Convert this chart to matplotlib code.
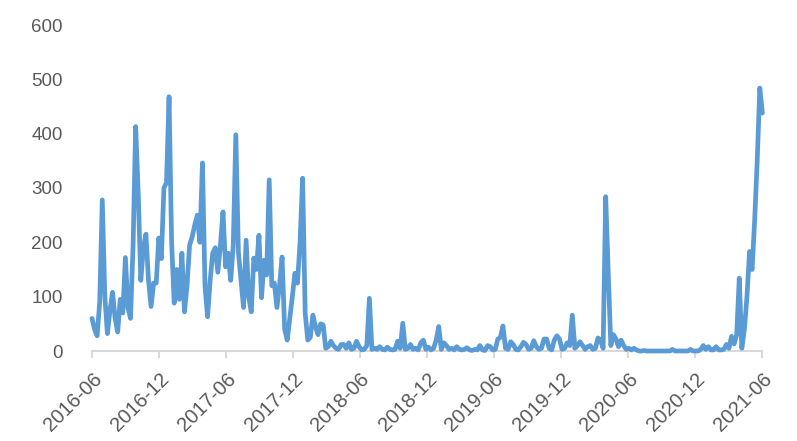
import matplotlib
matplotlib.use("Agg")
import matplotlib.pyplot as plt
import matplotlib.dates as mdates
import pandas as pd

# Weekly values starting 2016-06-01
seg_2016 = [60, 40, 28, 90, 278, 100, 32, 75, 108, 60,
            35, 95, 70, 172, 80, 60, 195, 413, 290, 130,
            190, 215, 130, 82, 125, 125, 208,
            170, 300, 310, 468, 200, 88, 150, 95, 180,
            72, 120, 195, 210, 232, 250, 200, 346, 118,
            63, 130, 180, 190, 145, 195, 256, 155]
seg_2017 = [180, 130, 195, 398, 182, 130, 80, 204, 100, 72,
            171, 150, 213, 98, 167, 140, 315, 120, 125, 80,
            120, 173, 40, 20, 60, 100,
            143, 125, 200, 318, 70, 20, 25, 66, 45, 30,
            50, 48, 5, 8, 18, 10, 5, 3, 12, 12,
            5, 15, 3, 5, 18, 8, 2, 3, 10, 97,
            3, 5, 3, 8, 3, 2]
seg_2018 = [7, 3, 2, 3, 18, 5, 51, 3, 5, 12,
            3, 5, 2, 15, 20, 3, 7, 2, 5, 20,
            45, 3, 15, 10, 3, 5, 2, 8, 3, 2,
            3, 6, 2, 1, 3, 2, 10, 2, 1, 10,
            8, 2, 3, 22, 25, 46, 5, 3, 17, 12,
            3, 2, 8, 16, 12, 3, 5, 19, 8, 3,
            5, 22, 22, 5, 2, 20, 28, 22, 3, 5,
            15, 10, 66, 5, 10, 17, 10, 3, 8, 10,
            3, 5, 24, 20, 5, 284, 143, 10, 30, 22,
            8, 20, 10, 3, 5, 2, 5]
seg_2020 = [2, 0, 0, 1, 0, 0, 0, 0, 0, 0,
            0, 0, 0, 0, 3, 0, 0, 0, 0, 0,
            0, 3, 0, 0, 0, 3, 10, 3, 8, 2,
            2, 8, 2, 2, 3, 12, 5, 27, 13, 30,
            134, 5, 40, 100, 183, 150, 241, 351, 484, 438]

values = seg_2016 + seg_2017 + seg_2018 + seg_2020
dates = pd.date_range("2016-06-01", periods=len(values), freq="7D")

tick_dates = pd.to_datetime(["2016-06-01", "2016-12-01", "2017-06-01", "2017-12-01",
                             "2018-06-01", "2018-12-01", "2019-06-01", "2019-12-01",
                             "2020-06-01", "2020-12-01", "2021-06-01"])
tick_labels = ["2016-06", "2016-12", "2017-06", "2017-12", "2018-06", "2018-12",
               "2019-06", "2019-12", "2020-06", "2020-12", "2021-06"]
y_ticks = [0, 100, 200, 300, 400, 500, 600]

plt.rcParams['font.family'] = ['Liberation Sans', 'DejaVu Sans']

fig = plt.figure(figsize=(7.97, 4.41), dpi=100)
ax = fig.add_axes([92/797, 1 - 351/441, (762 - 92)/797, (351 - 25)/441])

ax.plot(dates, values, color="#5B9BD5", linewidth=3.4, solid_joinstyle="round",
        solid_capstyle="round", clip_on=False, zorder=3)

ax.set_xlim(tick_dates[0], tick_dates[-1])
ax.set_ylim(0, 600)
ax.set_yticks(y_ticks)
ax.set_yticklabels([str(v) for v in y_ticks])
ax.set_xticks(tick_dates)
ax.set_xticklabels(tick_labels, rotation=45, ha="right", va="top", rotation_mode="anchor")

for s in ["top", "right", "left"]:
    ax.spines[s].set_visible(False)
ax.spines["bottom"].set_color("#D9D9D9")
ax.spines["bottom"].set_linewidth(1.5)
ax.spines["bottom"].set_zorder(1)

ax.tick_params(axis="y", length=0, pad=21, labelsize=13.5, labelcolor="#595959")
ax.tick_params(axis="x", length=5, width=1.5, color="#D9D9D9", pad=8,
               labelsize=14.5, labelcolor="#595959")

fig.savefig("out.png", dpi=100)
